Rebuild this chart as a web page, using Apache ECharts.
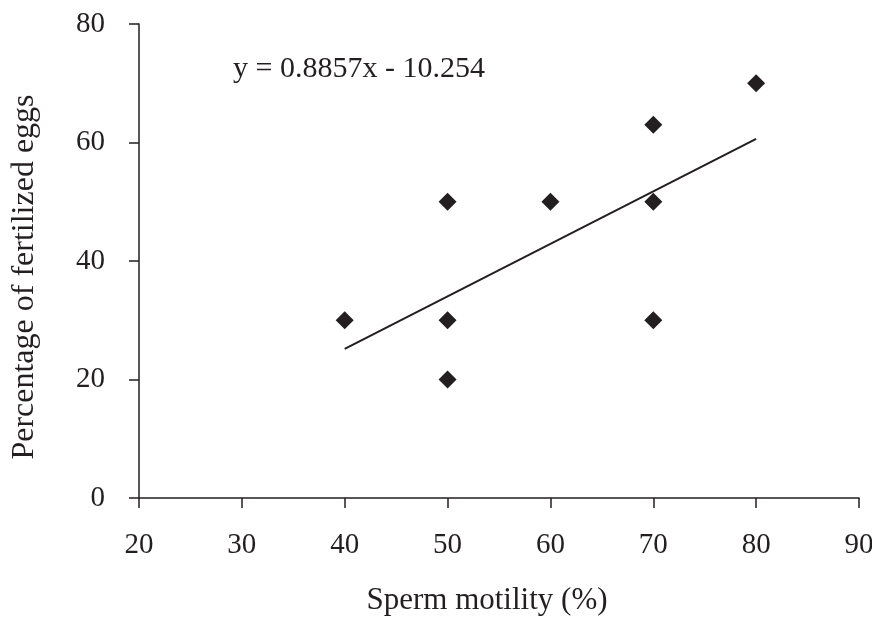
<!DOCTYPE html>
<html><head><meta charset="utf-8">
<script src="https://cdn.jsdelivr.net/npm/echarts@6/dist/echarts.min.js"></script>
<style>html,body{margin:0;padding:0;background:#fff}#c{width:872px;height:620px}</style>
</head><body><div id="c"></div>
<script>
const motility = [40, 50, 50, 50, 60, 70, 70, 70, 80];
const fertilized = [30, 50, 30, 20, 50, 63, 50, 30, 70];
const trendSlope = 0.8857;
const trendIntercept = -10.254;
const trendX = [40, 80];
const equationText = 'y = 0.8857x - 10.254';
const xTitle = 'Sperm motility (%)';
const yTitle = 'Percentage of fertilized eggs';

const font = '"Liberation Serif", "DejaVu Serif", serif';
const ink = '#231f20';
const pts = motility.map((x, i) => [x, fertilized[i]]);
const trend = trendX.map(x => [x, trendSlope * x + trendIntercept]);

const chart = echarts.init(document.getElementById('c'));
chart.setOption({
  animation: false,
  backgroundColor: '#fff',
  grid: { left: 139, right: 13, top: 24, bottom: 122, containLabel: false, outerBoundsMode: 'none' },
  xAxis: {
    type: 'value', min: 20, max: 90, interval: 10,
    name: xTitle, nameLocation: 'middle', nameGap: 87,
    nameTextStyle: { fontFamily: font, fontSize: 31, color: ink, padding: [0, 24, 0, 0] },
    axisLine: { show: true, lineStyle: { color: ink, width: 1.5 } },
    axisTick: { show: true, length: 10, lineStyle: { color: ink, width: 1.5 } },
    axisLabel: { margin: 33, fontFamily: font, fontSize: 29, color: ink },
    splitLine: { show: false }
  },
  yAxis: {
    type: 'value', min: 0, max: 80, interval: 20,
    name: yTitle, nameLocation: 'middle', nameGap: 98, nameRotate: 90,
    nameTextStyle: { fontFamily: font, fontSize: 32, color: ink, padding: [0, 32, 0, 0] },
    axisLine: { show: true, lineStyle: { color: ink, width: 1.5 } },
    axisTick: { show: true, length: 10, lineStyle: { color: ink, width: 1.5 } },
    axisLabel: { margin: 34, fontFamily: font, fontSize: 29, color: ink },
    splitLine: { show: false }
  },
  series: [
    {
      type: 'line', data: trend, symbol: 'none',
      lineStyle: { color: ink, width: 2 }, z: 1
    },
    {
      type: 'scatter', data: pts, symbol: 'diamond', symbolSize: 18,
      itemStyle: { color: ink, opacity: 1 }, z: 2
    }
  ],
  graphic: [{
    type: 'text', left: 233, top: 54,
    style: { text: equationText, font: '30px ' + font, fill: ink }
  }]
});
</script></body></html>
